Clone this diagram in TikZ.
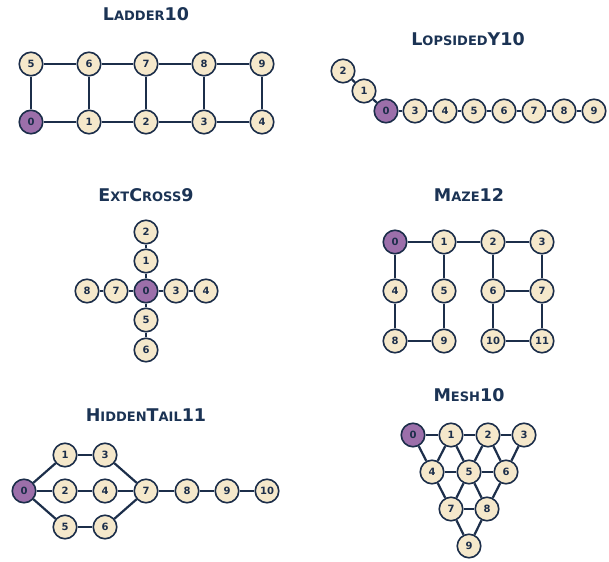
\documentclass[tikz,border=0pt]{standalone}
\usepackage{fontspec}
\setmainfont{DejaVu Sans}
\definecolor{navy}{HTML}{1C2E4A}
\definecolor{titlenavy}{HTML}{1B3354}
\definecolor{cream}{HTML}{F5E8CB}
\definecolor{startpurple}{HTML}{9C6FAA}
% fake small caps for the titles
\newcommand\smcap[1]{{\fontsize{13}{14}\selectfont #1}}
\begin{document}
\begin{tikzpicture}[x=1pt,y=-1pt,
  vtx/.style={circle,draw=navy,line width=1.6pt,fill=cream,minimum size=23.5pt,inner sep=0pt,
    font=\fontsize{10}{11}\selectfont\bfseries,text=navy},
  start/.style={vtx,fill=startpurple},
  edge/.style={draw=navy,line width=2.2pt},
  gtitle/.style={font=\fontsize{17.5}{19}\selectfont\bfseries,text=titlenavy,inner sep=0pt}]
\useasboundingbox (0,0) rectangle (609,561);

% ---------- Ladder10 ----------
\node[gtitle] (tl) at (146,14) {L\smcap{ADDER}10};
\node[start] (l0) at (31,122) {0};
\foreach \i/\x in {1/89,2/146,3/204,4/262}
  \node[vtx] (l\i) at (\x,122) {\i};
\foreach \i/\x in {5/31,6/89,7/146,8/204,9/262}
  \node[vtx] (l\i) at (\x,64) {\i};
\foreach \a/\b in {0/1,1/2,2/3,3/4,5/6,6/7,7/8,8/9,0/5,1/6,2/7,3/8,4/9}
  \draw[edge] (l\a) -- (l\b);

% ---------- LopsidedY10 ----------
\node[gtitle] (ty) at (468,39) {L\smcap{OPSIDED}Y10};
\node[start] (y0) at (386,111) {0};
\node[vtx] (y1) at (364,91) {1};
\node[vtx] (y2) at (343,71) {2};
\foreach \i/\x in {3/415,4/445,5/474,6/504,7/534,8/564,9/594}
  \node[vtx] (y\i) at (\x,111) {\i};
\foreach \a/\b in {0/1,1/2,0/3,3/4,4/5,5/6,6/7,7/8,8/9}
  \draw[edge] (y\a) -- (y\b);

% ---------- ExtCross9 ----------
\node[gtitle] (tx) at (146,195) {E\smcap{XT}C\smcap{ROSS}9};
\node[start] (x0) at (146,291) {0};
\node[vtx] (x1) at (146,261) {1};
\node[vtx] (x2) at (146,232) {2};
\node[vtx] (x3) at (176,291) {3};
\node[vtx] (x4) at (206,291) {4};
\node[vtx] (x5) at (146,320) {5};
\node[vtx] (x6) at (146,350) {6};
\node[vtx] (x7) at (116,291) {7};
\node[vtx] (x8) at (87,291) {8};
\foreach \a/\b in {0/1,1/2,0/3,3/4,0/5,5/6,0/7,7/8}
  \draw[edge] (x\a) -- (x\b);

% ---------- Maze12 ----------
\node[gtitle] (tm) at (469,195) {M\smcap{AZE}12};
\node[start] (m0) at (395,242) {0};
\foreach \i/\x/\y in {1/444/242,2/493/242,3/542/242,
                      4/395/291,5/444/291,6/493/291,7/542/291,
                      8/395/341,9/444/341,10/493/341,11/542/341}
  \node[vtx] (m\i) at (\x,\y) {\i};
\foreach \a/\b in {0/1,1/2,2/3,0/4,4/8,8/9,9/5,5/1,2/6,6/7,3/7,6/10,10/11,7/11}
  \draw[edge] (m\a) -- (m\b);

% ---------- HiddenTail11 ----------
\node[gtitle] (th) at (146,415) {H\smcap{IDDEN}T\smcap{AIL}11};
\node[start] (h0) at (24,491) {0};
\node[vtx] (h1) at (65,455) {1};
\node[vtx] (h2) at (65,491) {2};
\node[vtx] (h3) at (105,455) {3};
\node[vtx] (h4) at (105,491) {4};
\node[vtx] (h5) at (65,527) {5};
\node[vtx] (h6) at (105,527) {6};
\node[vtx] (h7) at (146,491) {7};
\node[vtx] (h8) at (187,491) {8};
\node[vtx] (h9) at (227,491) {9};
\node[vtx] (h10) at (267,491) {10};
\foreach \a/\b in {0/1,0/2,0/5,1/3,2/4,5/6,3/7,4/7,6/7,7/8,8/9,9/10}
  \draw[edge] (h\a) -- (h\b);

% ---------- Mesh10 ----------
\node[gtitle] (ts) at (469,395) {M\smcap{ESH}10};
\node[start] (s0) at (413,435) {0};
\node[vtx] (s1) at (451,435) {1};
\node[vtx] (s2) at (488,435) {2};
\node[vtx] (s3) at (524,435) {3};
\node[vtx] (s4) at (432,472) {4};
\node[vtx] (s5) at (469,472) {5};
\node[vtx] (s6) at (506,472) {6};
\node[vtx] (s7) at (451,509) {7};
\node[vtx] (s8) at (487,509) {8};
\node[vtx] (s9) at (469,546) {9};
\foreach \a/\b in {0/1,1/2,2/3,0/4,1/4,1/5,2/5,2/6,3/6,4/5,5/6,4/7,5/7,5/8,6/8,7/8,7/9,8/9}
  \draw[edge] (s\a) -- (s\b);
\end{tikzpicture}
\end{document}
